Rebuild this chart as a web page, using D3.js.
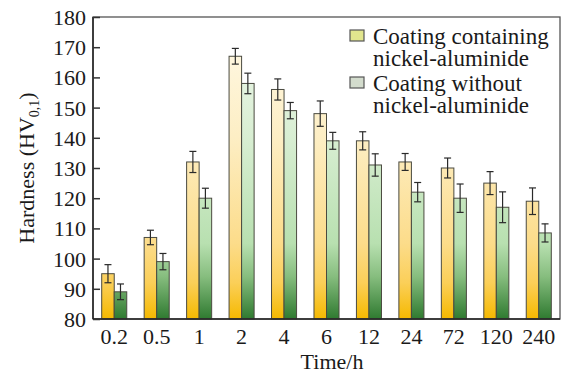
<!DOCTYPE html>
<html>
<head>
<meta charset="utf-8">
<script src="https://cdn.jsdelivr.net/npm/d3@7/dist/d3.min.js"></script>
<style>
  html, body { margin: 0; padding: 0; background: #fff; }
  svg { display: block; font-family: "Liberation Serif", "Times New Roman", serif; }
</style>
</head>
<body>
<svg id="chart" width="567" height="374"></svg>
<script>
// Hardness of the coatings versus exposure time
const categories = ["0.2", "0.5", "1", "2", "4", "6", "12", "24", "72", "120", "240"];
const seriesNames = ["Coating containing nickel-aluminide", "Coating without nickel-aluminide"];
const withAluminide = [95, 107, 132, 167, 156, 148, 139, 132, 130, 125, 119];
const withAluminideErr = [3, 2.4, 3.5, 2.6, 3.5, 4.2, 3, 2.8, 3.3, 3.8, 4.4];
const withoutAluminide = [89, 99, 120, 158, 149, 139, 131, 122, 120, 117, 108.5];
const withoutAluminideErr = [2.6, 2.7, 3.3, 3.4, 2.7, 2.8, 3.7, 3.2, 4.7, 5.1, 3];
const yTicks = [80, 90, 100, 110, 120, 130, 140, 150, 160, 170, 180];

const svg = d3.select("#chart");
const margin = { left: 93, right: 7, top: 17, bottom: 55 };
const W = 567, H = 374;
const plotL = margin.left, plotR = W - margin.right, plotT = margin.top, plotB = H - margin.bottom;

const x0 = d3.scaleBand().domain(categories).range([plotL, plotR])
  .paddingInner(0.41).paddingOuter(0.205);
const x1 = d3.scaleBand().domain([0, 1]).range([0, x0.bandwidth()]);
const y = d3.scaleLinear().domain([80, 180]).range([plotB, plotT]);

// Vertical fills spanning the plot height
const defs = svg.append("defs");
function grad(id, stops) {
  const g = defs.append("linearGradient").attr("id", id)
    .attr("gradientUnits", "userSpaceOnUse")
    .attr("x1", 0).attr("x2", 0).attr("y1", plotT).attr("y2", plotB);
  stops.forEach(([o, c]) => g.append("stop").attr("offset", o).attr("stop-color", c));
}
grad("gYellow", [[0, "#fffaea"], [0.4, "#fdeec4"], [0.75, "#fcdc8a"], [0.88, "#fbcf58"], [1, "#f5b900"]]);
grad("gGreen", [[0, "#f1f8ee"], [0.4, "#d8eed2"], [0.75, "#b8e0b0"], [0.86, "#86bd7e"], [1, "#2f7a30"]]);
const fills = ["url(#gYellow)", "url(#gGreen)"];

const data = categories.map((c, i) => ({
  cat: c,
  vals: [
    { s: 0, v: withAluminide[i], e: withAluminideErr[i] },
    { s: 1, v: withoutAluminide[i], e: withoutAluminideErr[i] }
  ]
}));

const groups = svg.append("g").selectAll("g").data(data).join("g")
  .attr("transform", d => `translate(${x0(d.cat)},0)`);

groups.selectAll("rect").data(d => d.vals).join("rect")
  .attr("x", d => x1(d.s))
  .attr("y", d => y(d.v))
  .attr("width", x1.bandwidth())
  .attr("height", d => y(80) - y(d.v))
  .attr("fill", d => fills[d.s])
  .attr("stroke", "#4a4a40")
  .attr("stroke-width", 1);

// Error bars
const capW = 3.5;
const eb = groups.selectAll("g.err").data(d => d.vals).join("g").attr("class", "err")
  .attr("stroke", "#2a2a2a").attr("stroke-width", 1.2);
eb.append("line")
  .attr("x1", d => x1(d.s) + x1.bandwidth() / 2).attr("x2", d => x1(d.s) + x1.bandwidth() / 2)
  .attr("y1", d => y(d.v + d.e)).attr("y2", d => y(d.v - d.e));
eb.append("line")
  .attr("x1", d => x1(d.s) + x1.bandwidth() / 2 - capW).attr("x2", d => x1(d.s) + x1.bandwidth() / 2 + capW)
  .attr("y1", d => y(d.v + d.e)).attr("y2", d => y(d.v + d.e));
eb.append("line")
  .attr("x1", d => x1(d.s) + x1.bandwidth() / 2 - capW).attr("x2", d => x1(d.s) + x1.bandwidth() / 2 + capW)
  .attr("y1", d => y(d.v - d.e)).attr("y2", d => y(d.v - d.e));

// Frame
svg.append("rect").attr("x", plotL).attr("y", plotT)
  .attr("width", plotR - plotL).attr("height", plotB - plotT)
  .attr("fill", "none").attr("stroke", "#555").attr("stroke-width", 1.3);
svg.append("line").attr("x1", plotL).attr("x2", plotL).attr("y1", plotT).attr("y2", plotB)
  .attr("stroke", "#222").attr("stroke-width", 1.5);
svg.append("line").attr("x1", plotL).attr("x2", plotR).attr("y1", plotB).attr("y2", plotB)
  .attr("stroke", "#222").attr("stroke-width", 1.5);

// Y axis (inward ticks)
const yAxis = svg.append("g").attr("transform", `translate(${plotL},0)`)
  .call(d3.axisLeft(y).tickValues(yTicks).tickSize(-7).tickPadding(7).tickFormat(d3.format("d")));
yAxis.select(".domain").remove();
yAxis.selectAll("line").attr("stroke", "#333").attr("stroke-width", 1.5);
yAxis.selectAll("text").attr("font-size", 22).attr("fill", "#1a1a1a")
  .attr("font-family", "Liberation Serif, serif").attr("dy", "0.34em");

// X axis labels
const xAxis = svg.append("g").attr("transform", `translate(0,${plotB})`)
  .call(d3.axisBottom(x0).tickSize(0).tickPadding(9));
xAxis.select(".domain").remove();
xAxis.selectAll("text").attr("font-size", 22).attr("fill", "#1a1a1a")
  .attr("font-family", "Liberation Serif, serif").attr("dy", "0.71em");

// Axis titles
svg.append("text").attr("x", 332).attr("y", 369).attr("text-anchor", "middle")
  .attr("font-size", 22).attr("fill", "#1a1a1a").text("Time/h");

const yt = svg.append("text").attr("transform", `translate(34,${(plotT + plotB) / 2}) rotate(-90)`)
  .attr("text-anchor", "middle").attr("font-size", 22).attr("fill", "#1a1a1a");
yt.append("tspan").text("Hardness (HV");
yt.append("tspan").attr("font-size", 14).attr("dy", 5).text("0,1");
yt.append("tspan").attr("dy", -5).text(")");

// Legend
const legend = svg.append("g").attr("transform", "translate(350,0)");
const swatchFill = ["#e2e68e", "#d3dccd"];
const legendRows = [
  ["Coating containing", "nickel-aluminide"],
  ["Coating without", "nickel-aluminide"]
];
legendRows.forEach((lines, i) => {
  const top = 30 + i * 47;
  legend.append("rect").attr("x", 0).attr("y", top).attr("width", 14).attr("height", 11)
    .attr("fill", swatchFill[i]).attr("stroke", "#555").attr("stroke-width", 1.2);
  lines.forEach((t, j) => {
    legend.append("text").attr("x", 23).attr("y", top + 14 + j * 21.5)
      .attr("font-size", 23).attr("fill", "#1a1a1a").text(t);
  });
});
</script>
</body>
</html>
